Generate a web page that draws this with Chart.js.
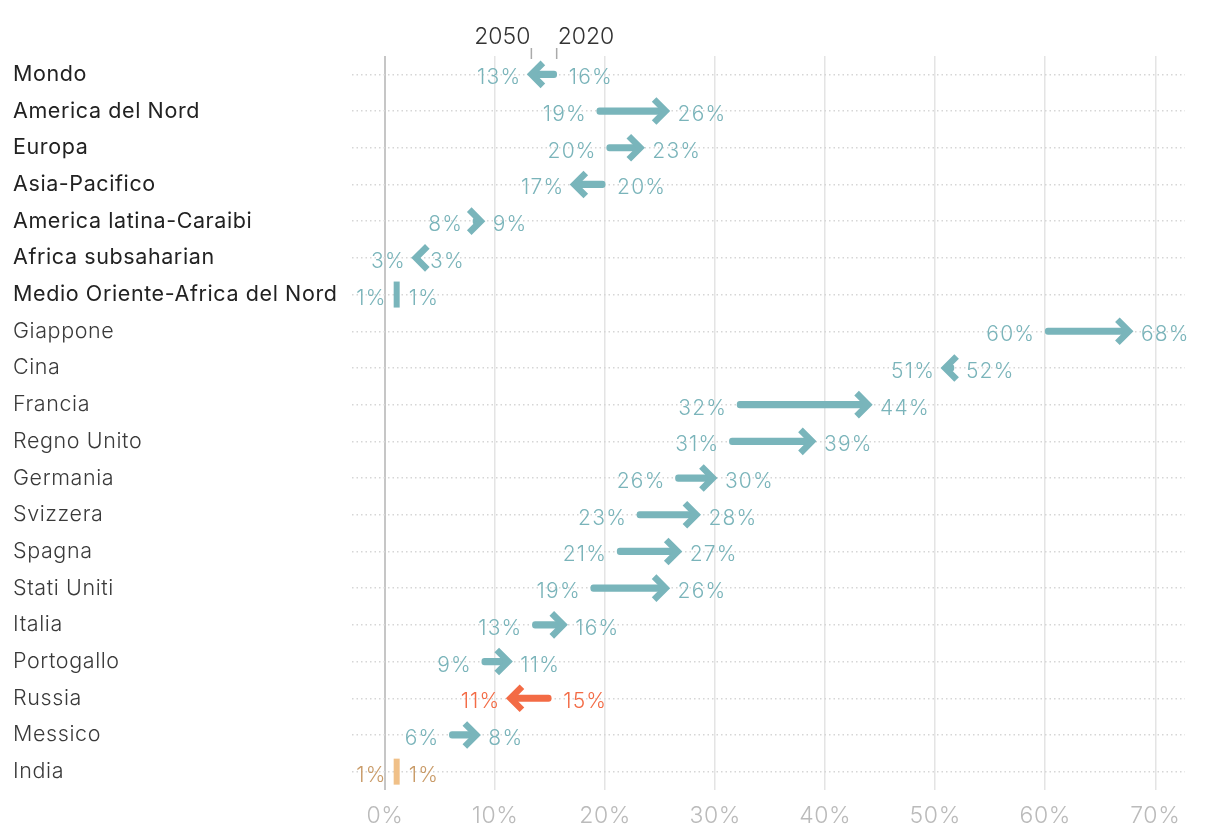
<!DOCTYPE html>
<html>
<head>
<meta charset="utf-8">
<script src="https://cdn.jsdelivr.net/npm/chart.js@4"></script>
<style>
  body { margin: 0; background: #fff; }
  #wrap { width: 1220px; height: 836px; }
</style>
</head>
<body>
<div id="wrap"><canvas id="chart"></canvas></div>
<script>
// rows, top to bottom (first 7 are regions, rest are countries)
const categories = ['Mondo', 'America del Nord', 'Europa', 'Asia-Pacifico', 'America latina-Caraibi',
  'Africa subsaharian', 'Medio Oriente-Africa del Nord', 'Giappone', 'Cina', 'Francia', 'Regno Unito',
  'Germania', 'Svizzera', 'Spagna', 'Stati Uniti', 'Italia', 'Portogallo', 'Russia', 'Messico', 'India']
const regionCount = 7
const years = ['2020', '2050']
const share2020 = [15.6, 19.25, 20.15, 20.0, 8.0, 3.0, 1.06, 60.0, 51.7, 32.0, 31.3, 26.4, 22.9, 21.1, 18.7, 13.4, 8.8, 15.1, 5.85, 1.06]
const share2050 = [13.3, 25.5, 23.2, 17.2, 8.7, 2.8, 1.06, 67.6, 50.9, 43.9, 38.8, 29.8, 28.3, 26.6, 25.5, 16.2, 11.2, 11.4, 8.3, 1.06]
const xTicks = [0, 10, 20, 30, 40, 50, 60, 70]

const teal = '#79b5bb'
const special = {
  Russia: { mark: '#f36b45', text: '#f36b45' },
  India: { mark: '#f0c088', text: '#c99b68' }
}
function colorsFor(i) {
  return special[categories[i]] || { mark: teal, text: '#7ab4ba' }
}
const pct = v => Math.round(v) + '%'

// a bit of tracking so Inter comes closer to the original face
const spacing = {
  id: 'spacing',
  beforeDraw(chart) { chart.ctx.letterSpacing = '0.6px' }
}

// chevrons, flat bars, value labels and the 2050/2020 header
const arrowPlugin = {
  id: 'arrows',
  afterDatasetsDraw(chart) {
    const { ctx, scales: { x, y }, chartArea } = chart
    ctx.save()
    categories.forEach((c, i) => {
      const py = y.getPixelForValue(i)
      const tail = x.getPixelForValue(share2020[i])
      const head = x.getPixelForValue(share2050[i])
      const col = colorsFor(i)
      const diff = share2050[i] - share2020[i]
      ctx.strokeStyle = col.mark
      ctx.fillStyle = col.mark
      if (Math.abs(diff) < 0.05) {
        ctx.fillRect(head - 3, py - 13, 6, 26)
      } else {
        const dir = diff > 0 ? 1 : -1
        ctx.lineWidth = 6.5
        ctx.lineJoin = 'miter'
        ctx.lineCap = 'butt'
        ctx.beginPath()
        ctx.moveTo(head - dir * 11.5, py - 11.5)
        ctx.lineTo(head, py)
        ctx.lineTo(head - dir * 11.5, py + 11.5)
        ctx.stroke()
      }
      ctx.font = '300 21px Inter'
      ctx.letterSpacing = '1.2px'
      ctx.fillStyle = col.text
      ctx.textBaseline = 'alphabetic'
      const leftVal = diff >= 0 ? share2020[i] : share2050[i]
      const rightVal = diff >= 0 ? share2050[i] : share2020[i]
      ctx.textAlign = 'right'
      ctx.fillText(pct(leftVal), Math.min(tail, head) - 10, py + 10)
      ctx.textAlign = 'left'
      ctx.fillText(pct(rightVal), Math.max(tail, head) + 12, py + 10)
    })

    // header over the first row
    const t0 = x.getPixelForValue(share2020[0])
    const h0 = x.getPixelForValue(share2050[0])
    const top = chartArea.top
    ctx.font = '300 23px Inter'
    ctx.letterSpacing = '0px'
    ctx.fillStyle = '#333'
    ctx.textAlign = 'right'
    ctx.fillText(years[1], h0 - 1, top - 12)
    ctx.textAlign = 'left'
    ctx.fillText(years[0], t0 + 1, top - 12)
    ctx.strokeStyle = '#aaa'
    ctx.lineWidth = 1.5
    ctx.beginPath()
    ctx.moveTo(h0, top - 8); ctx.lineTo(h0, top + 3)
    ctx.moveTo(t0, top - 8); ctx.lineTo(t0, top + 3)
    ctx.stroke()
    ctx.restore()
  }
}

new Chart(document.getElementById('chart'), {
  type: 'bar',
  data: {
    labels: categories,
    datasets: [{
      data: categories.map((c, i) => [share2020[i], share2050[i]]),
      backgroundColor: categories.map((c, i) => colorsFor(i).mark),
      barThickness: 6.5,
      borderRadius: 3,
      borderSkipped: false
    }]
  },
  options: {
    indexAxis: 'y',
    responsive: true,
    maintainAspectRatio: false,
    animation: false,
    layout: { padding: { top: 56, left: 13, right: 35, bottom: 10 } },
    plugins: { legend: { display: false }, tooltip: { enabled: false } },
    scales: {
      x: {
        type: 'linear',
        min: -3,
        max: 72.7,
        afterBuildTicks: s => { s.ticks = xTicks.map(v => ({ value: v })) },
        afterFit: s => { s.height = 36 },
        grid: {
          drawTicks: false,
          color: c => (c.tick && c.tick.value === 0 ? '#c6c6c6' : '#e4e4e4'),
          lineWidth: c => (c.tick && c.tick.value === 0 ? 2 : 1.5)
        },
        border: { display: false },
        ticks: {
          padding: 12,
          color: '#bbbbbb',
          font: { family: 'Inter', size: 23, weight: 300 },
          callback: v => v + '%'
        }
      },
      y: {
        afterFit: s => { s.width = 339 },
        grid: { offset: false, drawTicks: false, color: '#d6d6d6', lineWidth: 1.5 },
        border: { display: false, dash: [1.5, 3] },
        ticks: {
          autoSkip: false,
          crossAlign: 'far',
          padding: 0,
          color: c => (c.index < regionCount ? '#222' : '#3a3a3a'),
          font: c => ({ family: 'Inter', size: 21.5, weight: c.index < regionCount ? 400 : 300 })
        }
      }
    }
  },
  plugins: [spacing, arrowPlugin]
})
</script>
</body>
</html>
